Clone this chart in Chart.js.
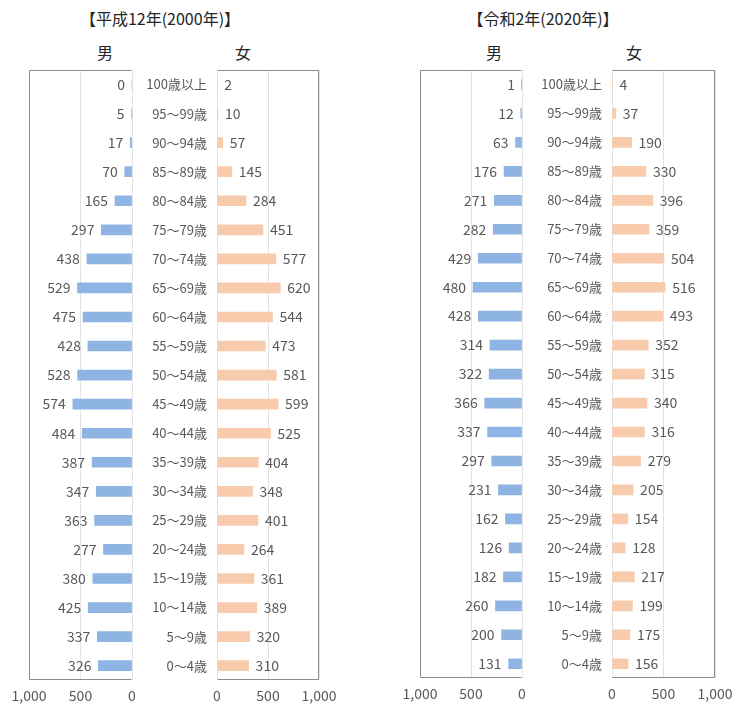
<!DOCTYPE html>
<html><head><meta charset="utf-8">
<script src="https://cdn.jsdelivr.net/npm/chart.js@4"></script>
<style>
html,body{margin:0;padding:0;background:#fff;width:735px;height:704px;overflow:hidden;}
body{position:relative;font-family:"Noto Sans CJK JP","Noto Sans",sans-serif;}
canvas{position:absolute;}
.t{position:absolute;transform:translate(-50%,-50%);white-space:nowrap;color:#262626;}
</style></head><body>
<div class="t" style="left:160px;top:18px;font-size:16px;">【平成12年(2000年)】</div>
<div class="t" style="left:543px;top:18px;font-size:16px;">【令和2年(2020年)】</div>
<div class="t" style="left:105px;top:52px;font-size:16px;">男</div>
<div class="t" style="left:243px;top:52px;font-size:16px;">女</div>
<div class="t" style="left:494px;top:52px;font-size:16px;">男</div>
<div class="t" style="left:634px;top:52px;font-size:16px;">女</div>
<script>
const ageLabels = ["100歳以上","95～99歳","90～94歳","85～89歳","80～84歳","75～79歳","70～74歳","65～69歳","60～64歳","55～59歳","50～54歳","45～49歳","40～44歳","35～39歳","30～34歳","25～29歳","20～24歳","15～19歳","10～14歳","5～9歳","0～4歳"];
const male2000 = [0,5,17,70,165,297,438,529,475,428,528,574,484,387,347,363,277,380,425,337,326];
const female2000 = [2,10,57,145,284,451,577,620,544,473,581,599,525,404,348,401,264,361,389,320,310];
const male2020 = [1,12,63,176,271,282,429,480,428,314,322,366,337,297,231,162,126,182,260,200,131];
const female2020 = [4,37,190,330,396,359,504,516,493,352,315,340,316,279,205,154,128,217,199,175,156];
const xTicks = [0,500,1000];

const MALE_COLOR = '#8db4e2';
const FEMALE_COLOR = '#f8cbad';
const TEXT = '#595959';
const FRAME = '#8c8c8c';
const GRID = '#e3e3e3';
const FONT = '"Noto Sans CJK JP","Noto Sans",sans-serif';

const framePlugin = {
  id:'frame',
  afterDraw(chart, args, opts){
    const a = chart.chartArea, ctx = chart.ctx;
    ctx.save();
    ctx.strokeStyle = FRAME; ctx.lineWidth = 1;
    ctx.beginPath();
    const T = Math.round(a.top)+0.5, B = Math.round(a.bottom)-0.5;
    const L = Math.round(a.left)+0.5, R = Math.round(a.right)-0.5;
    if (opts.side === 'left'){
      ctx.moveTo(R, T); ctx.lineTo(L, T); ctx.lineTo(L, B); ctx.lineTo(R, B);
    } else {
      ctx.moveTo(L, T); ctx.lineTo(R, T); ctx.lineTo(R, B); ctx.lineTo(L, B);
    }
    ctx.stroke();
    ctx.restore();
  }
};
const labelPlugin = {
  id:'vlabels',
  afterDatasetsDraw(chart, args, opts){
    const ctx = chart.ctx;
    const meta = chart.getDatasetMeta(0);
    const data = chart.data.datasets[0].data;
    ctx.save();
    ctx.font = '14px ' + FONT;
    ctx.fillStyle = TEXT;
    ctx.textBaseline = 'middle';
    meta.data.forEach((bar, i) => {
      const x = bar.x, y = bar.y;
      if (opts.side === 'left'){ ctx.textAlign = 'right'; ctx.fillText(String(data[i]), x - 7, y); }
      else { ctx.textAlign = 'left'; ctx.fillText(String(data[i]), x + 7, y); }
    });
    ctx.restore();
  }
};

function makeChart(cfg){
  const c = document.createElement('canvas');
  c.style.left = cfg.cl + 'px';
  c.style.top = cfg.ct + 'px';
  c.style.width = cfg.cw + 'px';
  c.style.height = cfg.ch + 'px';
  c.width = cfg.cw; c.height = cfg.ch;
  document.body.appendChild(c);
  const isLeft = cfg.side === 'left';
  return new Chart(c, {
    type:'bar',
    data:{ labels: ageLabels, datasets:[{ data: cfg.data, backgroundColor: cfg.color, barThickness: 10, borderWidth:0 }] },
    plugins:[framePlugin, labelPlugin],
    options:{
      responsive:false, animation:false,
      indexAxis:'y',
      layout:{ padding: cfg.padding },
      plugins:{ legend:{display:false}, tooltip:{enabled:false}, frame:{side:cfg.side}, vlabels:{side:cfg.side} },
      scales:{
        x:{
          min:0, max:1000, reverse:isLeft,
          afterBuildTicks(s){ s.ticks = xTicks.map(v => ({value:v})); },
          ticks:{ color:TEXT, font:{size:14, family:FONT}, padding:7, maxRotation:0,
            callback:(v) => Number(v).toLocaleString('en-US') },
          grid:{ color:GRID, drawTicks:false },
          border:{ display:false }
        },
        y:{
          display: !isLeft,
          position:'left',
          afterFit(s){ if (!isLeft) s.width = cfg.yw; },
          ticks:{ color:TEXT, font:{size:13, family:FONT}, padding:10 },
          grid:{ display:false, drawTicks:false },
          border:{ display:false }
        }
      }
    }
  });
}

// 2000
makeChart({side:'left', data:male2000, color:MALE_COLOR, cl:-1, ct:50, cw:143, ch:661, padding:{left:30,right:10,top:20,bottom:0}});
makeChart({side:'right', data:female2000, color:FEMALE_COLOR, cl:132, ct:50, cw:217, ch:661, yw:85, padding:{left:0,right:30,top:20,bottom:0}});
// 2020
makeChart({side:'left', data:male2020, color:MALE_COLOR, cl:390, ct:50, cw:142, ch:659, padding:{left:30,right:10,top:20,bottom:0}});
makeChart({side:'right', data:female2020, color:FEMALE_COLOR, cl:522, ct:50, cw:223, ch:659, yw:90, padding:{left:0,right:30,top:20,bottom:0}});
</script>
</body></html>
